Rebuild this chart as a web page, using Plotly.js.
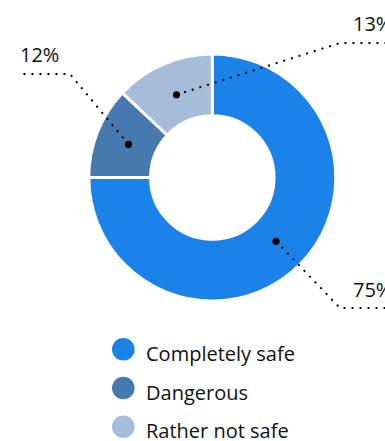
<!DOCTYPE html>
<html><head><meta charset="utf-8">
<script src="https://cdn.plot.ly/plotly-3.0.1.min.js"></script>
<style>html,body{margin:0;padding:0;background:#fff;overflow:hidden}#chart{width:385px;height:441px}</style>
</head><body><div id="chart"></div>
<script>
// ---- data ----
const categories = ["Completely safe", "Dangerous", "Rather not safe"];
const shares = [75, 12, 13];
const valueLabels = ["75%", "12%", "13%"];
const sliceColors = ["#1a82e8", "#4679ae", "#a5bdd8"];

// ---- geometry (pixels) ----
const W = 385, H = 441;
const cx = 212.3, cy = 177.5, R = 123.5, hole = 0.5;
const dotR = 0.73 * R;
// elbow of each leader line, label side (+1 right, -1 left)
const elbows = [{x: 340, y: 308, side: 1}, {x: 70, y: 74, side: -1}, {x: 340, y: 43, side: 1}];
const FONT = "Open Sans, Noto Sans, sans-serif";

const px = x => x / W;
const py = y => 1 - y / H;

const total = shares.reduce((a, b) => a + b, 0);
let cum = 0;
const shapes = [];
const annotations = [];
shares.forEach((v, i) => {
  const a = (cum + v / 2) / total * 2 * Math.PI;
  cum += v;
  const dx = cx + dotR * Math.sin(a), dy = cy - dotR * Math.cos(a);
  const e = elbows[i];
  const endX = e.side > 0 ? W + 2 : 18;
  shapes.push({type: "path", xref: "paper", yref: "paper", layer: "above",
    path: `M ${px(dx)} ${py(dy)} L ${px(e.x)} ${py(e.y)} L ${px(endX)} ${py(e.y)}`,
    line: {color: "#000", width: 2, dash: "2px,6px"}});
  shapes.push({type: "circle", xref: "paper", yref: "paper", layer: "above",
    x0: px(dx - 3.6), x1: px(dx + 3.6), y0: py(dy + 3.6), y1: py(dy - 3.6),
    fillcolor: "#000", line: {width: 0}});
  annotations.push({xref: "paper", yref: "paper", x: px(e.side > 0 ? 351 : 18), y: py(e.y - 19),
    xanchor: "left", yanchor: "middle", showarrow: false, text: valueLabels[i],
    font: {family: FONT, size: 20, color: "#111"}});
  // legend
  const ly = 349.3 + i * 38.7;
  shapes.push({type: "circle", xref: "paper", yref: "paper", layer: "above",
    x0: px(123.3 - 11.3), x1: px(123.3 + 11.3), y0: py(ly + 11.3), y1: py(ly - 11.3),
    fillcolor: sliceColors[i], line: {width: 0}});
  annotations.push({xref: "paper", yref: "paper", x: px(144), y: py(ly + 4),
    xanchor: "left", yanchor: "middle", showarrow: false, text: categories[i],
    font: {family: FONT, size: 20, color: "#111"}});
});

const data = [{
  type: "pie", labels: categories, values: shares, sort: false,
  direction: "clockwise", rotation: 0, hole: hole,
  marker: {colors: sliceColors, line: {color: "#fff", width: 3}},
  textinfo: "none", hoverinfo: "label+percent", showlegend: false,
  domain: {x: [px(cx - R), px(cx + R)], y: [py(cy + R), py(cy - R)]}
}];

const layout = {
  width: W, height: H, margin: {l: 0, r: 0, t: 0, b: 0},
  paper_bgcolor: "#fff", showlegend: false,
  shapes: shapes, annotations: annotations
};
Plotly.newPlot("chart", data, layout, {displayModeBar: false, staticPlot: true});
</script></body></html>
